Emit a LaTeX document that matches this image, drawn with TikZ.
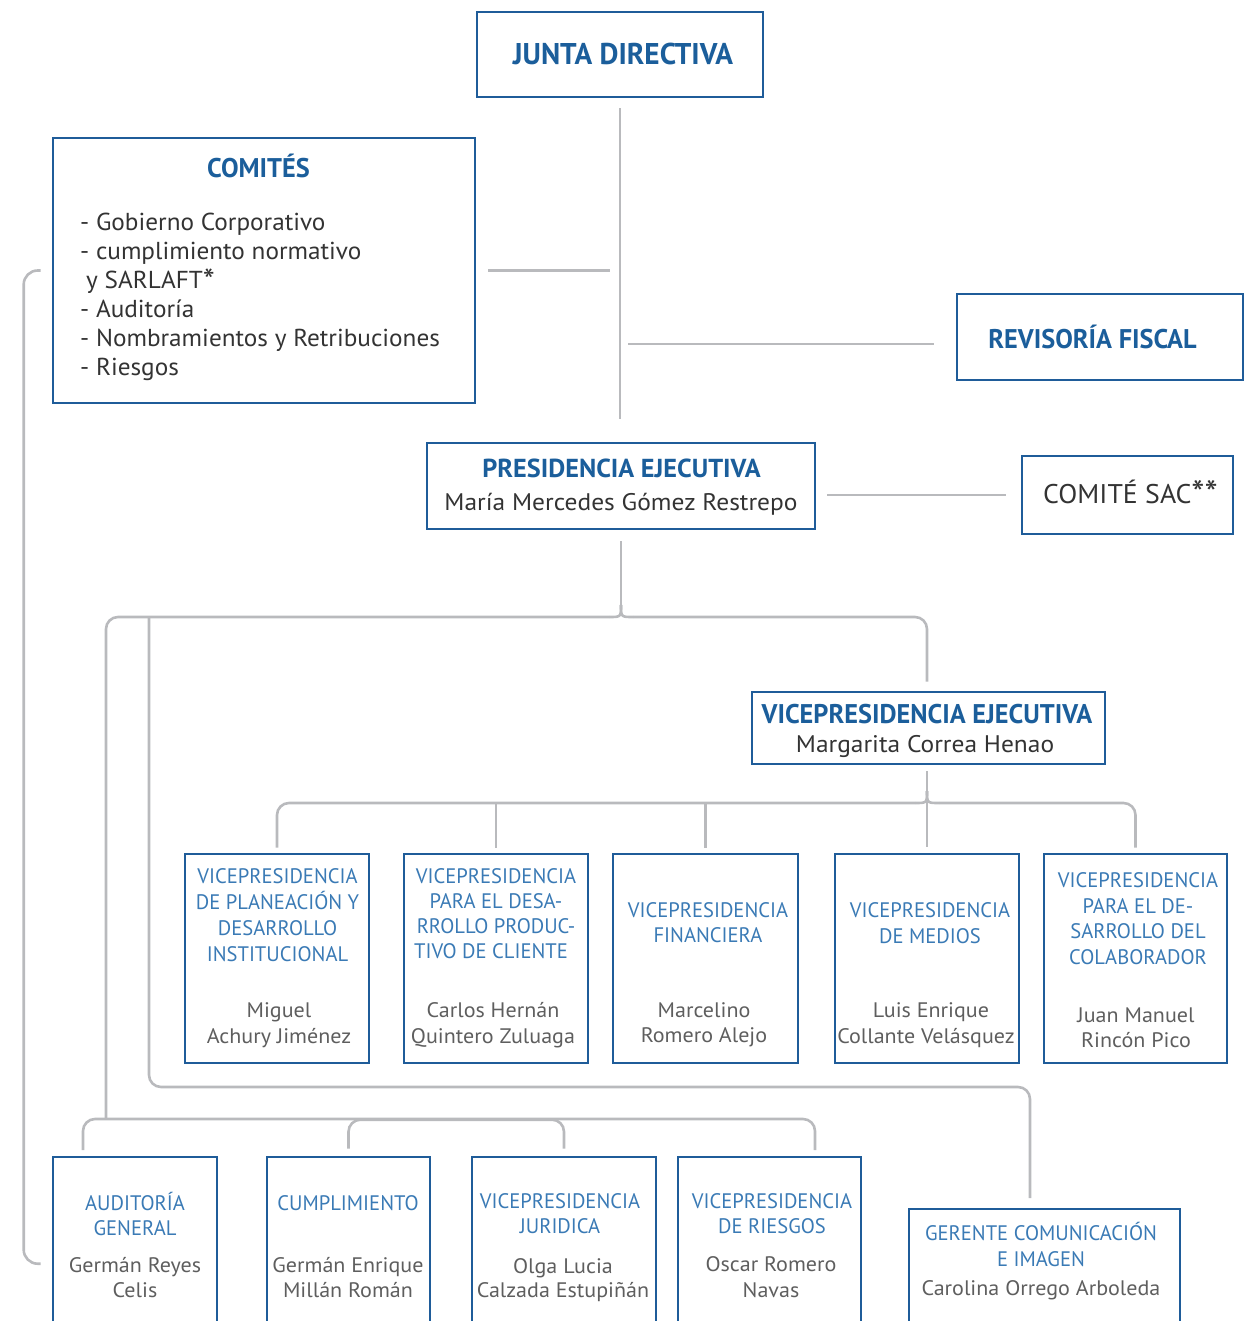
\documentclass[tikz,border=0pt]{standalone}
\usepackage{fontspec}
\usepackage{graphicx}
\setmainfont{PT Sans}
\newfontfamily\condfont{PT Sans}[FakeStretch=0.975]
\newfontfamily\presfont{PT Sans}[FakeStretch=1.01]
\newfontfamily\namefont{PT Sans}[FakeStretch=1.06]
\newfontfamily\listfont{PT Sans}[FakeStretch=1.03]
\newfontfamily\sacfont{PT Sans}[FakeStretch=1.03]
\newfontfamily\unitfont{PT Sans}[FakeStretch=0.98]
\newfontfamily\unitnamefont{PT Sans}[FakeStretch=1.05]
\definecolor{boxblue}{HTML}{1F5C99}
\definecolor{titleblue}{HTML}{1B5E9B}
\definecolor{lightblue}{HTML}{3A7AB5}
\definecolor{darktext}{HTML}{333333}
\definecolor{graytext}{HTML}{5E5E5E}
\definecolor{connector}{HTML}{B9BABD}
\newcommand{\tline}[5]{\node[#1, anchor=base] (#2) at (#3,#4) {#5};}
\newcommand{\bigast}{\raisebox{-0.14em}{\scalebox{1.35}{*}}}
\begin{document}
\begin{tikzpicture}[x=1pt, y=-1pt,
  orgbox/.style={draw=boxblue, line width=2.6pt, inner sep=0pt},
  conn/.style={draw=connector, line width=2.6pt},
  bigtitle/.style={font=\condfont\bfseries\fontsize{30}{30}\selectfont, text=titleblue, inner sep=0pt},
  midtitle/.style={font=\condfont\bfseries\fontsize{27}{27}\selectfont, text=titleblue, inner sep=0pt},
  prestitle/.style={font=\presfont\bfseries\fontsize{26}{26}\selectfont, text=titleblue, inner sep=0pt},
  topname/.style={font=\namefont\fontsize{24}{24}\selectfont, text=darktext, inner sep=0pt},
  sactext/.style={font=\sacfont\fontsize{27}{27}\selectfont, text=darktext, inner sep=0pt},
  listtext/.style={font=\listfont\fontsize{24.5}{24.5}\selectfont, text=darktext, inner sep=0pt, anchor=base west},
  unittitle/.style={font=\unitfont\fontsize{21}{21}\selectfont, text=lightblue, inner sep=0pt},
  unitname/.style={font=\unitnamefont\fontsize{21}{21}\selectfont, text=graytext, inner sep=0pt}
]
\useasboundingbox (0,0) rectangle (1255,1321);
\clip (0,0) rectangle (1255,1321);

% ---------- boxes ----------
\node[orgbox, minimum width=286pt, minimum height=85pt] (jd) at (620,54.5) {};
\node[orgbox, minimum width=422pt, minimum height=265pt] (com) at (264,270.5) {};
\node[orgbox, minimum width=286pt, minimum height=86pt] (rev) at (1100,337) {};
\node[orgbox, minimum width=388pt, minimum height=86pt] (pres) at (621,486) {};
\node[orgbox, minimum width=211pt, minimum height=78pt] (sac) at (1127.5,495) {};
\node[orgbox, minimum width=353pt, minimum height=72pt] (vpe) at (928.5,728) {};

\node[orgbox, minimum width=184pt, minimum height=209pt] (m1) at (277,958.5) {};
\node[orgbox, minimum width=184pt, minimum height=209pt] (m2) at (496,958.5) {};
\node[orgbox, minimum width=185pt, minimum height=209pt] (m3) at (705.5,958.5) {};
\node[orgbox, minimum width=184pt, minimum height=209pt] (m4) at (927,958.5) {};
\node[orgbox, minimum width=183pt, minimum height=209pt] (m5) at (1135.5,958.5) {};

\node[orgbox, minimum width=164pt, minimum height=200pt] (b1) at (135,1257) {};
\node[orgbox, minimum width=163pt, minimum height=200pt] (b2) at (348.5,1257) {};
\node[orgbox, minimum width=184pt, minimum height=200pt] (b3) at (564,1257) {};
\node[orgbox, minimum width=183pt, minimum height=200pt] (b4) at (769.5,1257) {};
\node[orgbox, minimum width=271pt, minimum height=150pt] (b5) at (1044.5,1284) {};

% ---------- texts ----------
\tline{bigtitle}{jdt}{623}{65}{JUNTA DIRECTIVA}
\tline{midtitle}{comt}{258.5}{178}{COMITÉS}
\node[listtext] (l1) at (80,231) {- Gobierno Corporativo};
\node[listtext] (l2) at (80,259.8) {- cumplimiento normativo};
\node[listtext] (l3) at (86,288.6) {y SARLAFT\bigast};
\node[listtext] (l4) at (80,317.4) {- Auditoría};
\node[listtext] (l5) at (80,346.2) {- Nombramientos y Retribuciones};
\node[listtext] (l6) at (80,375) {- Riesgos};
\tline{midtitle}{revt}{1092.5}{348}{REVISORÍA FISCAL}
\tline{prestitle}{prest}{621.5}{477}{PRESIDENCIA EJECUTIVA}
\tline{topname}{presn}{621}{510}{María Mercedes Gómez Restrepo}
\tline{sactext}{sact}{1130.5}{503}{COMITÉ SAC\bigast\bigast}
\tline{midtitle}{vpet}{927}{723}{VICEPRESIDENCIA EJECUTIVA}
\tline{topname}{vpen}{925}{752}{Margarita Correa Henao}

% middle row
\tline{unittitle}{m1a}{277.5}{883}{VICEPRESIDENCIA}
\tline{unittitle}{m1b}{277.5}{909}{DE PLANEACIÓN Y}
\tline{unittitle}{m1c}{277.5}{935}{DESARROLLO}
\tline{unittitle}{m1d}{277.5}{961}{INSTITUCIONAL}
\tline{unitname}{m1e}{279}{1017}{Miguel}
\tline{unitname}{m1f}{279}{1043}{Achury Jiménez}

\tline{unittitle}{m2a}{496}{883}{VICEPRESIDENCIA}
\tline{unittitle}{m2b}{496}{908}{PARA EL DESA-}
\tline{unittitle}{m2c}{496}{933}{RROLLO PRODUC-}
\tline{unittitle}{m2d}{491}{958}{TIVO DE CLIENTE}
\tline{unitname}{m2e}{493}{1017}{Carlos Hernán}
\tline{unitname}{m2f}{493}{1043}{Quintero Zuluaga}

\tline{unittitle}{m3a}{708}{917}{VICEPRESIDENCIA}
\tline{unittitle}{m3b}{708}{942}{FINANCIERA}
\tline{unitname}{m3c}{704}{1017}{Marcelino}
\tline{unitname}{m3d}{704}{1042}{Romero Alejo}

\tline{unittitle}{m4a}{930}{917}{VICEPRESIDENCIA}
\tline{unittitle}{m4b}{930}{943}{DE MEDIOS}
\tline{unitname}{m4c}{931}{1017}{Luis Enrique}
\tline{unitname}{m4d}{926}{1043}{Collante Velásquez}

\tline{unittitle}{m5a}{1138}{887}{VICEPRESIDENCIA}
\tline{unittitle}{m5b}{1138}{913}{PARA EL DE-}
\tline{unittitle}{m5c}{1138}{938}{SARROLLO DEL}
\tline{unittitle}{m5d}{1138}{964}{COLABORADOR}
\tline{unitname}{m5e}{1136}{1022}{Juan Manuel}
\tline{unitname}{m5f}{1136}{1047}{Rincón Pico}

% bottom row
\tline{unittitle}{b1a}{135}{1210}{AUDITORÍA}
\tline{unittitle}{b1b}{135}{1235}{GENERAL}
\tline{unitname}{b1c}{135}{1272}{Germán Reyes}
\tline{unitname}{b1d}{135}{1297}{Celis}

\tline{unittitle}{b2a}{348}{1210}{CUMPLIMIENTO}
\tline{unitname}{b2b}{348}{1272}{Germán Enrique}
\tline{unitname}{b2c}{348}{1297}{Millán Román}

\tline{unittitle}{b3a}{560}{1208}{VICEPRESIDENCIA}
\tline{unittitle}{b3b}{560}{1233}{JURIDICA}
\tline{unitname}{b3c}{563}{1273}{Olga Lucia}
\tline{unitname}{b3d}{563}{1297}{Calzada Estupiñán}

\tline{unittitle}{b4a}{772}{1208}{VICEPRESIDENCIA}
\tline{unittitle}{b4b}{772}{1233}{DE RIESGOS}
\tline{unitname}{b4c}{771}{1271}{Oscar Romero}
\tline{unitname}{b4d}{771}{1297}{Navas}

\tline{unittitle}{b5a}{1041}{1240}{GERENTE COMUNICACIÓN}
\tline{unittitle}{b5b}{1041}{1266}{E IMAGEN}
\tline{unitname}{b5c}{1041}{1295}{Carolina Orrego Arboleda}

% ---------- connectors ----------
\coordinate (br1) at (621,617);
\coordinate (br2) at (927,803);
\coordinate (lt) at (106,1119);
\coordinate (d1) at (83,1150);
\coordinate (d4) at (815,1150);
\coordinate (gc) at (1030,1198);
\coordinate (st) at (149,617);

% junta -> presidencia trunk
\draw[conn] ([yshift=-10pt]jd.south) -- ([yshift=23pt]jd.south |- pres.north);
% comites
\draw[conn] ([xshift=12pt]com.east) -- ([xshift=-10pt]com.east -| jd.south);
% revisoria
\draw[conn] ([xshift=8pt,yshift=-7pt]jd.south |- rev.west) -- ([xshift=-22pt,yshift=-7pt]rev.west);
% comite sac
\draw[conn] ([xshift=11pt]pres.east |- sac.west) -- ([xshift=-15pt]sac.west);

% presidencia brace
\draw[conn] ([yshift=-11pt]pres.south) -- ([yshift=12pt]br1);
\draw[conn] ([yshift=12pt]br1) .. controls (br1) .. ([xshift=-12pt]br1);
\draw[conn] ([yshift=12pt]br1) .. controls (br1) .. ([xshift=12pt]br1);
\draw[conn, rounded corners=12pt] ([xshift=-12pt]br1) -- (lt |- br1) -- (lt);
\draw[conn, rounded corners=12pt] ([xshift=12pt]br1) -| ([yshift=9pt]vpe.north -| br2);
\draw[conn, rounded corners=12pt] (st) -- (st |- 0,1087) -- (gc |- 0,1087) -- (gc);

% vicepresidencia ejecutiva brace
\draw[conn] ([yshift=-6pt]vpe.south -| br2) -- ([yshift=6pt]m4.north);
\draw[conn] ([yshift=12pt]br2) .. controls (br2) .. ([xshift=-12pt]br2);
\draw[conn] ([yshift=12pt]br2) .. controls (br2) .. ([xshift=12pt]br2);
\draw[conn, rounded corners=12pt] ([xshift=-12pt]br2) -| ([yshift=5pt]m1.north);
\draw[conn] (m2.north |- br2) -- ([yshift=5pt]m2.north);
\draw[conn] (m3.north |- br2) -- ([yshift=5pt]m3.north);
\draw[conn, rounded corners=12pt] ([xshift=12pt]br2) -| ([yshift=5pt]m5.north);

% bottom row
\draw[conn, rounded corners=12pt] (d1) -- (d1 |- lt) -- (d4 |- lt) -- (d4);
\draw[conn, rounded corners=12pt] ([yshift=7pt]b2.north) -- ([yshift=36pt]b2.north) -- ([yshift=36pt]b3.north) -- ([yshift=7pt]b3.north);

% left bracket comites -> auditoria
\draw[conn, rounded corners=14pt] ([xshift=-11pt]com.west) -- ([xshift=-28pt]com.west) -- ([xshift=-28pt,yshift=-108pt]b1.north west) -- ([xshift=-11pt,yshift=-108pt]b1.north west);
\end{tikzpicture}
\end{document}
